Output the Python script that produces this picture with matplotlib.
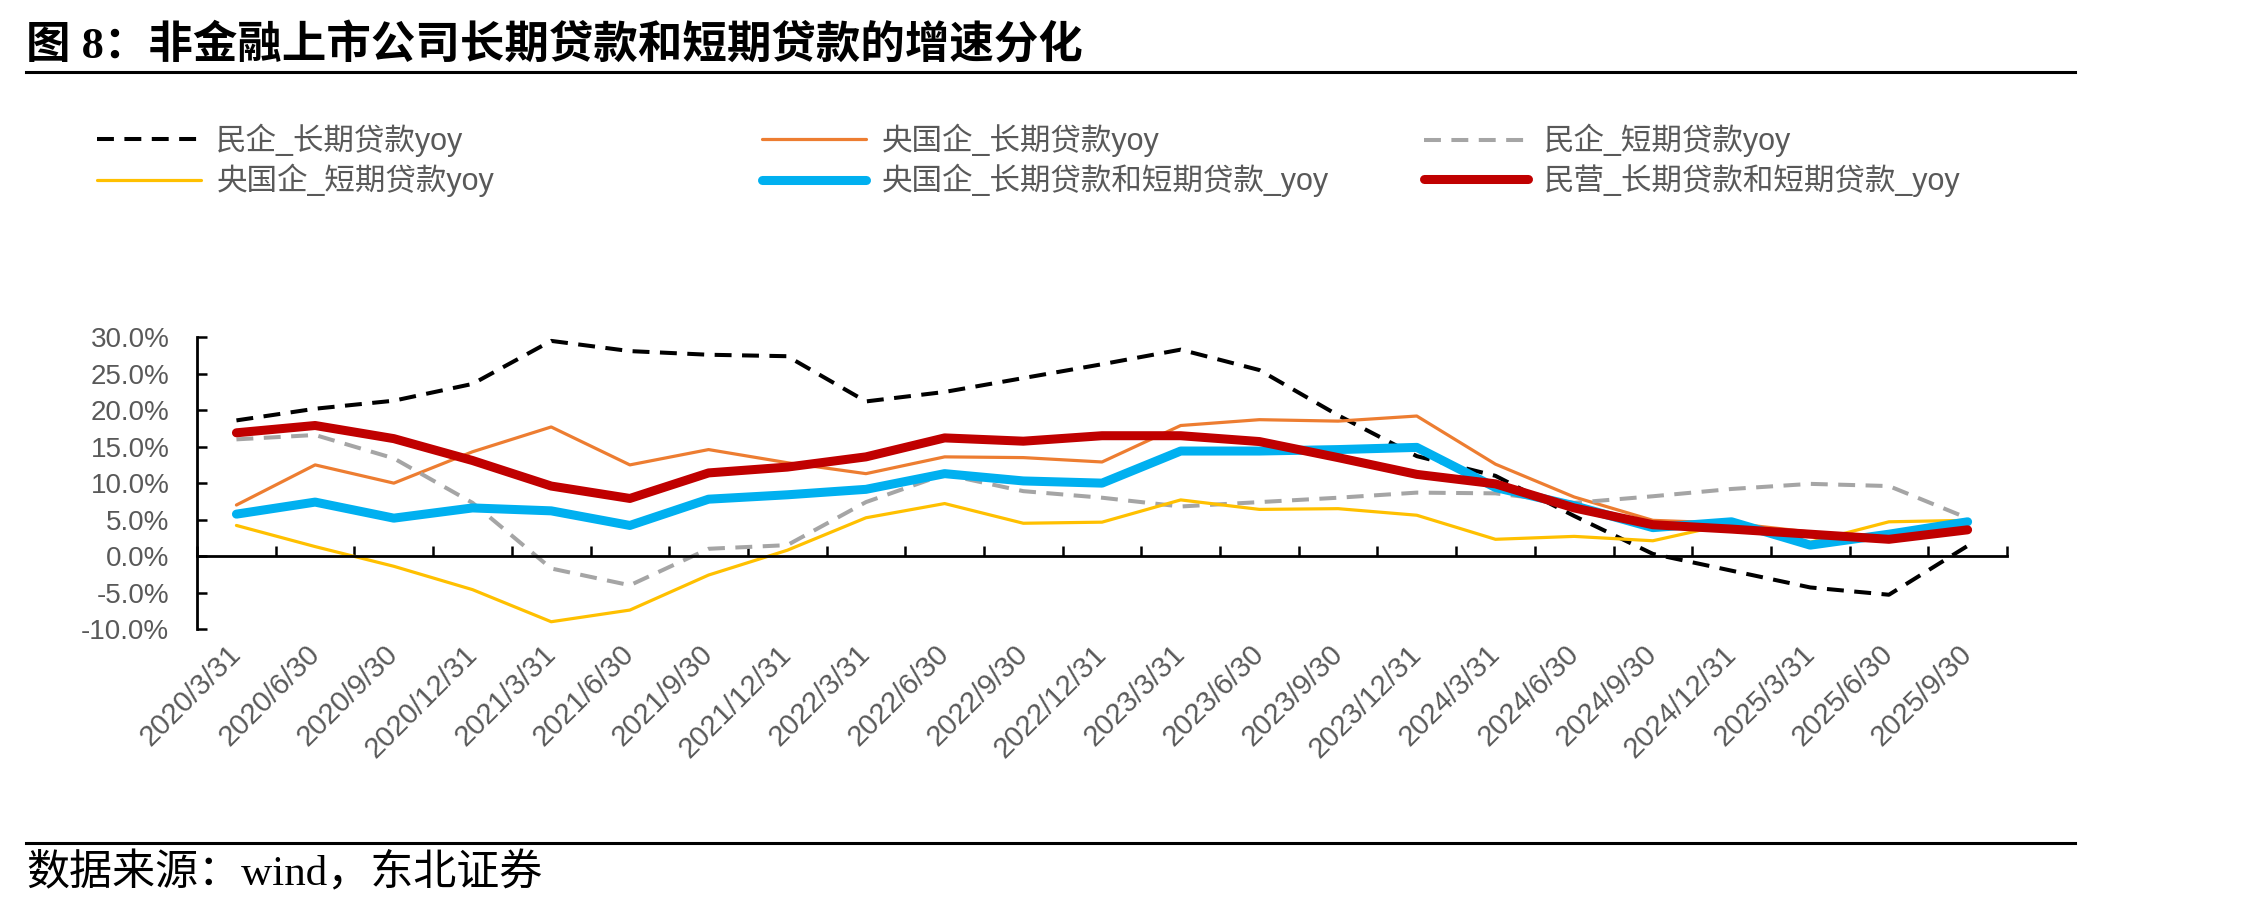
"""非金融上市公司长期贷款和短期贷款的增速分化 (图 8)."""

import matplotlib
matplotlib.use("Agg")
import matplotlib.pyplot as plt
import numpy as np
from matplotlib.lines import Line2D

plt.rcParams["font.family"] = ["Liberation Sans", "Noto Sans CJK SC", "DejaVu Sans"]

# ---------------------------------------------------------------------------
# Data (yoy, %)
# ---------------------------------------------------------------------------

dates = [
    "2020/3/31", "2020/6/30", "2020/9/30", "2020/12/31",
    "2021/3/31", "2021/6/30", "2021/9/30", "2021/12/31",
    "2022/3/31", "2022/6/30", "2022/9/30", "2022/12/31",
    "2023/3/31", "2023/6/30", "2023/9/30", "2023/12/31",
    "2024/3/31", "2024/6/30", "2024/9/30", "2024/12/31",
    "2025/3/31", "2025/6/30", "2025/9/30",
]

private_long = [18.6, 20.2, 21.3, 23.6, 29.5, 28.1, 27.6, 27.4,
                21.2, 22.5, 24.4, 26.3, 28.3, 25.5, 19.3, 13.7,
                11.0, 5.5, 0.3, -2.0, -4.3, -5.3, 1.4]
soe_long = [7.0, 12.5, 10.0, 14.3, 17.7, 12.5, 14.6, 12.8,
            11.3, 13.6, 13.5, 12.9, 17.9, 18.7, 18.5, 19.2,
            12.6, 8.1, 4.9, 4.5, 3.3, 2.5, 3.8]
private_short = [16.0, 16.6, 13.4, 7.3, -1.7, -4.0, 1.0, 1.5,
                 7.4, 11.2, 8.9, 8.0, 6.8, 7.4, 8.0, 8.7,
                 8.6, 7.3, 8.2, 9.2, 9.9, 9.6, 5.2]
soe_short = [4.2, 1.3, -1.4, -4.6, -9.0, -7.4, -2.6, 0.8,
             5.25, 7.2, 4.5, 4.65, 7.7, 6.4, 6.5, 5.6,
             2.3, 2.7, 2.1, 4.5, 1.9, 4.7, 4.9]
soe_total = [5.75, 7.4, 5.2, 6.6, 6.2, 4.2, 7.8, 8.4,
             9.15, 11.3, 10.3, 10.0, 14.4, 14.4, 14.6, 14.9,
             9.4, 6.9, 3.9, 4.7, 1.5, 3.0, 4.7]
private_total = [16.9, 17.9, 16.1, 13.1, 9.6, 7.9, 11.4, 12.2,
                 13.6, 16.2, 15.75, 16.5, 16.5, 15.7, 13.5, 11.2,
                 9.9, 6.6, 4.3, 3.7, 3.0, 2.3, 3.6]

series_labels = [
    "民企_长期贷款yoy",
    "央国企_长期贷款yoy",
    "民企_短期贷款yoy",
    "央国企_短期贷款yoy",
    "央国企_长期贷款和短期贷款_yoy",
    "民营_长期贷款和短期贷款_yoy",
]

y_ticks = [-10, -5, 0, 5, 10, 15, 20, 25, 30]

TEXT_GREY = "#595959"

# ---------------------------------------------------------------------------
# Figure
# ---------------------------------------------------------------------------

fig = plt.figure(figsize=(22.68, 9.09), dpi=100)
ax = fig.add_axes([0.0869, 0.308, 0.798, 0.321])

x = np.arange(len(dates))
styles = [
    dict(color="black", lw=2.9, ls=(0, (4.2, 2.6))),
    dict(color="#ED7D31", lw=2.3, ls="-"),
    dict(color="#A5A5A5", lw=2.9, ls=(0, (4.2, 2.6))),
    dict(color="#FFC000", lw=2.3, ls="-"),
    dict(color="#00B0F0", lw=6.5, ls="-"),
    dict(color="#C00000", lw=6.5, ls="-"),
]
values = [private_long, soe_long, private_short, soe_short, soe_total, private_total]

handles = []
for vals, st, lab in zip(values, styles, series_labels):
    (h,) = ax.plot(x, vals, color=st["color"], lw=st["lw"], ls=st["ls"],
                   label=lab, solid_capstyle="round", solid_joinstyle="round")
    handles.append(h)

ax.set_xlim(-0.5, len(dates) - 0.5)
ax.set_ylim(-10, 30)
ax.set_yticks(y_ticks)
ax.set_yticklabels([f"{v:.1f}%" for v in y_ticks])

for side in ("top", "right"):
    ax.spines[side].set_visible(False)
ax.spines["bottom"].set_position(("data", 0))
for side in ("left", "bottom"):
    ax.spines[side].set_linewidth(2.0)
    ax.spines[side].set_color("black")

# category boundary ticks on the zero line
ax.set_xticks(np.arange(-0.5, len(dates)))
ax.tick_params(axis="x", direction="in", length=7, width=1.8, labelbottom=False)
ax.tick_params(axis="y", direction="in", length=7, width=1.8, pad=20,
               labelsize=20, labelcolor=TEXT_GREY)

# date labels at the bottom of the plot area
sec = ax.secondary_xaxis(0.0)
sec.set_ticks(x, labels=dates)
sec.tick_params(axis="x", length=0, pad=15, labelsize=21, labelcolor=TEXT_GREY)
sec.spines["bottom"].set_visible(False)
for lbl in sec.get_xticklabels():
    lbl.set_rotation(45)
    lbl.set_ha("right")
    lbl.set_va("center")
    lbl.set_rotation_mode("anchor")

# legend: three columns of two entries
legend_x = [0.0428, 0.336, 0.628]
for col, lx in enumerate(legend_x):
    leg = fig.legend(
        handles=[handles[col], handles[col + 3]],
        loc="center left", bbox_to_anchor=(lx, 0.8235),
        frameon=False, fontsize=22, handlelength=3.4, handletextpad=0.5,
        labelspacing=0.22, borderpad=0, borderaxespad=0,
    )
    for t in leg.get_texts():
        t.set_color(TEXT_GREY)

# title, rules, source
fig.text(0.0115, 0.949, "图 8：非金融上市公司长期贷款和短期贷款的增速分化",
         fontsize=32, fontweight="bold", va="center", ha="left",
         family=["Liberation Serif", "Noto Sans CJK SC"])
fig.add_artist(Line2D([0.0115, 0.915], [0.921, 0.921], transform=fig.transFigure,
                      color="black", lw=2.2))
fig.add_artist(Line2D([0.0115, 0.915], [0.0726, 0.0726], transform=fig.transFigure,
                      color="black", lw=2.2))
fig.text(0.0115, 0.0385, "数据来源：wind，东北证券", fontsize=31, va="center", ha="left",
         family=["Liberation Serif", "Noto Sans CJK SC"])

fig.savefig("out.png", dpi=100)
